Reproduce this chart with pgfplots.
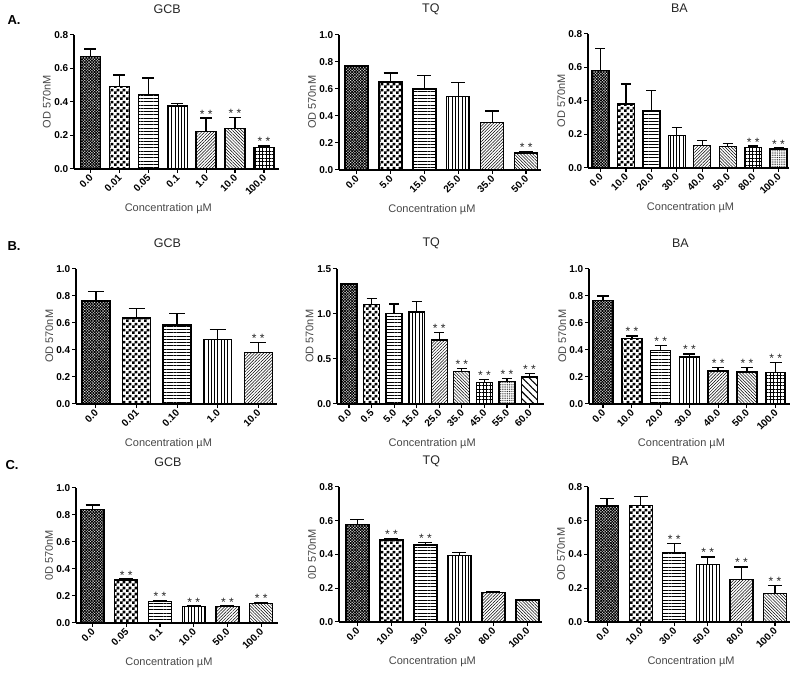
\documentclass[border=0pt]{standalone}
\usepackage{fontspec}
\setmainfont{Liberation Sans}
\usepackage{pgfplots}
\pgfplotsset{compat=1.18}
\usetikzlibrary{patterns,patterns.meta}

% checkerboard fill for the second bar
\pgfdeclarepatternformonly{check}{\pgfpointorigin}{\pgfqpoint{6pt}{6pt}}{\pgfqpoint{6pt}{6pt}}{%
  \pgfpathrectangle{\pgfpointorigin}{\pgfqpoint{3pt}{3pt}}%
  \pgfpathrectangle{\pgfqpoint{3pt}{3pt}}{\pgfqpoint{3pt}{3pt}}%
  \pgfusepath{fill}}

\tikzset{
  p1/.style={pattern={Hatch[angle=45,distance=2pt,line width=0.85pt]}},
  p2/.style={pattern=check},
  p3/.style={pattern={Lines[angle=0,distance=3.3pt,line width=0.8pt]}},
  p4/.style={pattern={Lines[angle=90,distance=3.3pt,line width=0.8pt]}},
  p5/.style={pattern={Lines[angle=45,distance=2.2pt,line width=0.5pt]}},
  p6/.style={pattern={Lines[angle=-45,distance=2.2pt,line width=0.5pt]}},
  p7/.style={pattern={Hatch[angle=0,distance=3.5pt,line width=0.6pt]}},
  p8/.style={pattern={Dots[radius=0.5pt,distance=1.8pt]}},
  p9/.style={pattern={Lines[angle=-45,distance=5pt,line width=1.1pt]}},
}

\def\capsize{6pt}
\pgfplotsset{
  panel/.style={
    scale only axis,
    anchor=south west,
    axis lines=left,
    axis line style={-, line width=1.3pt},
    ymin=0,
    tick align=outside,
    major tick length=4pt,
    every tick/.style={black, line width=1.2pt},
    /pgf/number format/assume math mode=true,
    tick label style={font=\fontsize{10}{10}\selectfont\bfseries},
    yticklabel style={/pgf/number format/fixed, /pgf/number format/fixed zerofill,
      /pgf/number format/precision=1, inner sep=1.5pt},
    xticklabel style={rotate=45, anchor=east, inner sep=1pt, xshift=-0.5pt, yshift=-2.5pt},
    xlabel={Concentration µM},
    ylabel={OD 570nM},
    label style={font=\fontsize{11}{12}\selectfont, text=black!72},
    xlabel style={at={(axis description cs:0.46,0)}, anchor=center, yshift=-40pt},
    ylabel style={at={(axis description cs:-0.133,0.5)}, anchor=center},
    title style={at={(axis description cs:0.455,1)}, anchor=center, yshift=20pt,
      font=\fontsize{12.5}{13}\selectfont, text=black!85},
    clip=false,
  },
  bb/.style={ybar, bar shift=0pt, draw=black, line width=1.3pt,
    error bars/y dir=plus, error bars/y explicit,
    error bars/error bar style={line width=1.3pt, black, solid},
    error bars/error mark options={rotate=90, line width=1.3pt, black, mark size=\capsize}},
}
% significance marks above the error bar caps
\newcommand{\st}[2]{\node[font=\fontsize{12}{12}\selectfont, text=black!85, anchor=base, yshift=0pt] at (axis cs:#1,#2) {* *};}

\begin{document}
\begin{tikzpicture}
\path (0pt,0pt) rectangle (797pt,671pt);

\node[font=\fontsize{13}{13}\selectfont\bfseries] at (14pt,655.5pt) {A.};
\node[font=\fontsize{13}{13}\selectfont\bfseries] at (14pt,430pt) {B.};
\node[font=\fontsize{13}{13}\selectfont\bfseries] at (12pt,211pt) {C.};

% ---------- row A ----------
\def\capsize{6pt}
\begin{axis}[panel, at={(74pt,507pt)}, width=205pt, height=134pt,
  xmin=-0.57, xmax=6.52, ymax=0.8, ytick={0,0.2,0.4,0.6,0.8},
  xtick={0,...,6}, xticklabels={0.0,0.01,0.05,0.1,1.0,10.0,100.0},
  bar width=20pt, title={GCB}]
\addplot[bb,p1] coordinates {(0,0.67) +- (0,0.045)};
\addplot[bb,p2] coordinates {(1,0.49) +- (0,0.07)};
\addplot[bb,p3] coordinates {(2,0.445) +- (0,0.097)};
\addplot[bb,p4] coordinates {(3,0.376) +- (0,0.016)};
\addplot[bb,p5] coordinates {(4,0.223) +- (0,0.08)};
\addplot[bb,p6] coordinates {(5,0.243) +- (0,0.063)};
\addplot[bb,p7] coordinates {(6,0.127) +- (0,0.01)};
\st{4}{0.303}\st{5}{0.306}\st{6}{0.137}
\end{axis}

\def\capsize{7pt}
\begin{axis}[panel, at={(339pt,506pt)}, width=202pt, height=135pt,
  xmin=-0.52, xmax=5.44, ymax=1.0, ytick={0,0.2,0.4,0.6,0.8,1.0},
  xtick={0,...,5}, xticklabels={0.0,5.0,15.0,25.0,35.0,50.0},
  bar width=23pt, title={TQ}]
\addplot[bb,p1] coordinates {(0,0.77) +- (0,0.004)};
\addplot[bb,p2] coordinates {(1,0.65) +- (0,0.068)};
\addplot[bb,p3] coordinates {(2,0.598) +- (0,0.10)};
\addplot[bb,p4] coordinates {(3,0.543) +- (0,0.104)};
\addplot[bb,p5] coordinates {(4,0.35) +- (0,0.087)};
\addplot[bb,p6] coordinates {(5,0.126) +- (0,0.008)};
\st{5}{0.134}
\end{axis}

\def\capsize{5pt}
\begin{axis}[panel, at={(588pt,508pt)}, width=201pt, height=134pt,
  xmin=-0.49, xmax=7.41, ymax=0.8, ytick={0,0.2,0.4,0.6,0.8},
  xtick={0,...,7}, xticklabels={0.0,10.0,20.0,30.0,40.0,50.0,80.0,100.0},
  bar width=17pt, title={BA}, xlabel style={at={(axis description cs:0.51,0)}}]
\addplot[bb,p1] coordinates {(0,0.581) +- (0,0.13)};
\addplot[bb,p2] coordinates {(1,0.382) +- (0,0.118)};
\addplot[bb,p3] coordinates {(2,0.340) +- (0,0.12)};
\addplot[bb,p4] coordinates {(3,0.193) +- (0,0.05)};
\addplot[bb,p5] coordinates {(4,0.133) +- (0,0.032)};
\addplot[bb,p6] coordinates {(5,0.127) +- (0,0.018)};
\addplot[bb,p7] coordinates {(6,0.121) +- (0,0.009)};
\addplot[bb,p8] coordinates {(7,0.113) +- (0,0.005)};
\st{6}{0.13}\st{7}{0.118}
\end{axis}

% ---------- row B ----------
\def\capsize{8pt}
\begin{axis}[panel, at={(76pt,272pt)}, width=201pt, height=135pt,
  xmin=-0.49, xmax=4.46, ymax=1.0, ytick={0,0.2,0.4,0.6,0.8,1.0},
  xtick={0,...,4}, xticklabels={0.0,0.01,0.10,1.0,10.0},
  bar width=28pt, title={GCB}]
\addplot[bb,p1] coordinates {(0,0.763) +- (0,0.07)};
\addplot[bb,p2] coordinates {(1,0.637) +- (0,0.072)};
\addplot[bb,p3] coordinates {(2,0.585) +- (0,0.087)};
\addplot[bb,p4] coordinates {(3,0.479) +- (0,0.074)};
\addplot[bb,p5] coordinates {(4,0.38) +- (0,0.077)};
\st{4}{0.457}
\end{axis}

\def\capsize{5pt}
\begin{axis}[panel, at={(337pt,272pt)}, width=207pt, height=135pt,
  xmin=-0.53, xmax=8.64, ymax=1.5, ytick={0,0.5,1.0,1.5},
  xtick={0,...,8}, xticklabels={0.0,0.5,5.0,15.0,25.0,35.0,45.0,55.0,60.0},
  bar width=16pt, title={TQ}]
\addplot[bb,p1] coordinates {(0,1.333) +- (0,0.008)};
\addplot[bb,p2] coordinates {(1,1.107) +- (0,0.06)};
\addplot[bb,p3] coordinates {(2,1.007) +- (0,0.104)};
\addplot[bb,p4] coordinates {(3,1.022) +- (0,0.115)};
\addplot[bb,p5] coordinates {(4,0.711) +- (0,0.085)};
\addplot[bb,p6] coordinates {(5,0.359) +- (0,0.037)};
\addplot[bb,p7] coordinates {(6,0.241) +- (0,0.026)};
\addplot[bb,p8] coordinates {(7,0.248) +- (0,0.034)};
\addplot[bb,p9] coordinates {(8,0.297) +- (0,0.044)};
\st{4}{0.796}\st{5}{0.396}\st{6}{0.267}\st{7}{0.282}\st{8}{0.341}
\end{axis}

\def\capsize{6pt}
\begin{axis}[panel, at={(589pt,272pt)}, width=201pt, height=135pt,
  xmin=-0.49, xmax=6.5, ymax=1.0, ytick={0,0.2,0.4,0.6,0.8,1.0},
  xtick={0,...,6}, xticklabels={0.0,10.0,20.0,30.0,40.0,50.0,100.0},
  bar width=20pt, title={BA}]
\addplot[bb,p1] coordinates {(0,0.765) +- (0,0.035)};
\addplot[bb,p2] coordinates {(1,0.486) +- (0,0.017)};
\addplot[bb,p3] coordinates {(2,0.393) +- (0,0.04)};
\addplot[bb,p4] coordinates {(3,0.348) +- (0,0.022)};
\addplot[bb,p5] coordinates {(4,0.244) +- (0,0.025)};
\addplot[bb,p6] coordinates {(5,0.235) +- (0,0.034)};
\addplot[bb,p7] coordinates {(6,0.23) +- (0,0.076)};
\st{1}{0.503}\st{2}{0.433}\st{3}{0.370}\st{4}{0.269}\st{5}{0.269}\st{6}{0.306}
\end{axis}

% ---------- row C ----------
\def\capsize{7pt}
\begin{axis}[panel, at={(76pt,53pt)}, width=202pt, height=135pt,
  xmin=-0.49, xmax=5.5, ymax=1.0, ytick={0,0.2,0.4,0.6,0.8,1.0},
  xtick={0,...,5}, xticklabels={0.0,0.05,0.1,10.0,50.0,100.0},
  bar width=23pt, title={GCB}, ylabel={0D 570nM}]
\addplot[bb,p1] coordinates {(0,0.842) +- (0,0.032)};
\addplot[bb,p2] coordinates {(1,0.318) +- (0,0.006)};
\addplot[bb,p3] coordinates {(2,0.158) +- (0,0.008)};
\addplot[bb,p4] coordinates {(3,0.121) +- (0,0.003)};
\addplot[bb,p5] coordinates {(4,0.119) +- (0,0.005)};
\addplot[bb,p6] coordinates {(5,0.143) +- (0,0.007)};
\st{1}{0.324}\st{2}{0.166}\st{3}{0.124}\st{4}{0.124}\st{5}{0.15}
\end{axis}

\begin{axis}[panel, at={(339pt,54pt)}, width=203pt, height=135pt,
  xmin=-0.54, xmax=5.43, ymax=0.8, ytick={0,0.2,0.4,0.6,0.8},
  xtick={0,...,5}, xticklabels={0.0,10.0,30.0,50.0,80.0,100.0},
  bar width=23pt, title={TQ}, ylabel={0D 570nM}]
\addplot[bb,p1] coordinates {(0,0.575) +- (0,0.033)};
\addplot[bb,p2] coordinates {(1,0.486) +- (0,0.01)};
\addplot[bb,p3] coordinates {(2,0.456) +- (0,0.016)};
\addplot[bb,p4] coordinates {(3,0.393) +- (0,0.02)};
\addplot[bb,p5] coordinates {(4,0.174) +- (0,0.006)};
\addplot[bb,p6] coordinates {(5,0.13) +- (0,0.003)};
\st{1}{0.496}\st{2}{0.472}
\end{axis}

\begin{axis}[panel, at={(588pt,54pt)}, width=202pt, height=135pt,
  xmin=-0.57, xmax=5.45, ymax=0.8, ytick={0,0.2,0.4,0.6,0.8},
  xtick={0,...,5}, xticklabels={0.0,10.0,30.0,50.0,80.0,100.0},
  bar width=23pt, title={BA}, xlabel style={at={(axis description cs:0.51,0)}}]
\addplot[bb,p1] coordinates {(0,0.687) +- (0,0.046)};
\addplot[bb,p2] coordinates {(1,0.691) +- (0,0.052)};
\addplot[bb,p3] coordinates {(2,0.411) +- (0,0.055)};
\addplot[bb,p4] coordinates {(3,0.342) +- (0,0.043)};
\addplot[bb,p5] coordinates {(4,0.251) +- (0,0.075)};
\addplot[bb,p6] coordinates {(5,0.17) +- (0,0.045)};
\st{2}{0.466}\st{3}{0.385}\st{4}{0.326}\st{5}{0.215}
\end{axis}
\end{tikzpicture}
\end{document}
